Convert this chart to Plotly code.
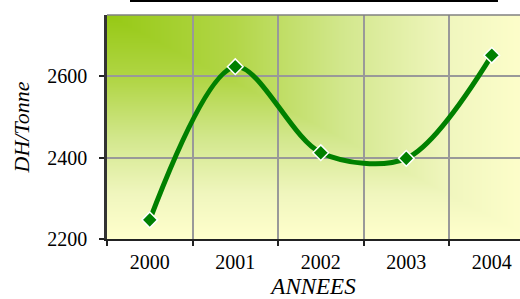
import base64, struct, zlib
import numpy as np
import plotly.graph_objects as go

years = ["2000", "2001", "2002", "2003", "2004"]
prices = [2247, 2623, 2412, 2398, 2651]
y_ticks = [2200, 2400, 2600]

# ---- background gradient ("from corner") as a PNG image ----
W, H = 413, 224
full_w = 427.0
u = (np.arange(W) + 0.5) / full_w
v = (np.arange(H) + 0.5) / H
t = np.maximum(u[None, :], v[:, None])
stops = np.array([0.0, 0.3, 0.55, 0.8, 1.0])
cols = np.array([
    [150, 201, 20],
    [178, 214, 72],
    [210, 231, 140],
    [240, 246, 190],
    [255, 255, 204],
], dtype=float)
img = np.zeros((H, W, 3), dtype=np.uint8)
for c in range(3):
    img[:, :, c] = np.interp(t, stops, cols[:, c]).round().astype(np.uint8)

def png_bytes(a):
    h, w, _ = a.shape
    raw = b"".join(b"\x00" + a[y].tobytes() for y in range(h))
    def chunk(tag, data):
        return (struct.pack(">I", len(data)) + tag + data +
                struct.pack(">I", zlib.crc32(tag + data) & 0xFFFFFFFF))
    return (b"\x89PNG\r\n\x1a\n" +
            chunk(b"IHDR", struct.pack(">IIBBBBB", w, h, 8, 2, 0, 0, 0)) +
            chunk(b"IDAT", zlib.compress(raw, 9)) +
            chunk(b"IEND", b""))

src = "data:image/png;base64," + base64.b64encode(png_bytes(img)).decode()

fig = go.Figure()
fig.add_trace(go.Scatter(
    x=years, y=prices, mode="lines+markers",
    line=dict(color="#008000", width=5, shape="spline", smoothing=0.9),
    marker=dict(symbol="diamond", size=12, color="#008000",
                line=dict(color="white", width=1.5)),
    showlegend=False,
))

serif = "Liberation Serif, Times New Roman, serif"
fig.update_layout(
    width=520, height=299,
    margin=dict(l=107, r=0, t=15, b=60),
    paper_bgcolor="white",
    plot_bgcolor="rgba(0,0,0,0)",
    font=dict(family=serif, size=20, color="black"),
    images=[dict(source=src, xref="paper", yref="paper", x=0, y=1,
                 sizex=1, sizey=1, sizing="stretch", xanchor="left",
                 yanchor="top", layer="below")],
    shapes=[
        dict(type="line", xref="paper", yref="paper", x0=0, x1=1, y0=1, y1=1,
             line=dict(color="#808080", width=1.5)),
        dict(type="rect", xref="paper", yref="paper", x0=0.0557, x1=0.9467,
             y0=1.058, y1=1.075, fillcolor="black", line=dict(width=0)),
    ],
    xaxis=dict(
        type="category", range=[-0.5, 4.33], tickson="boundaries",
        automargin=False,
        showgrid=True, gridcolor="#999999", gridwidth=1.5,
        showline=True, linecolor="#222222", linewidth=2,
        ticks="outside", ticklen=5, tickcolor="#222222", tickwidth=2,
        ticklabelstandoff=4,
        tickfont=dict(family=serif, size=20),
        title=dict(text="<i>ANNEES</i>", font=dict(family=serif, size=23),
                   standoff=16),
    ),
    yaxis=dict(
        range=[2200, 2750], tickvals=y_ticks,
        automargin=False,
        showgrid=True, gridcolor="#999999", gridwidth=1.5,
        showline=True, linecolor="#333333", linewidth=2.5,
        ticks="outside", ticklen=5, tickcolor="#222222", tickwidth=2,
        ticklabelstandoff=8,
        tickfont=dict(family=serif, size=20),
        title=dict(text="<i>DH/Tonne</i>", font=dict(family=serif, size=22),
                   standoff=12),
        zeroline=False,
    ),
)

fig.write_html("out.html", config={"displayModeBar": False},
               post_script="document.body.style.margin='0';")
